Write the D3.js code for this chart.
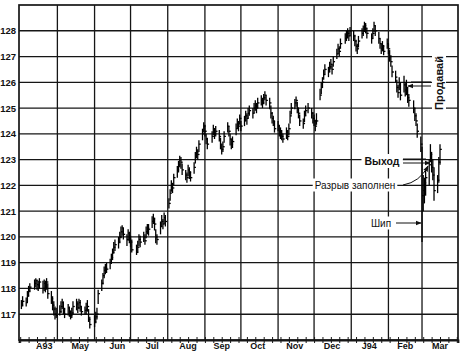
<!DOCTYPE html>
<html>
<head>
<meta charset="utf-8">
<script src="https://cdn.jsdelivr.net/npm/d3@7"></script>
<style>
  body { margin: 0; background: #fff; }
  svg { display: block; font-family: "Liberation Sans", Arial, sans-serif; }
</style>
</head>
<body>
<div id="chart"></div>
<script>
// daily bars: [high, low, close]
const apr93 = [
  [117.55,117.2,117.35],[117.7,117.3,117.5],[117.65,117.3,117.45],[117.9,117.45,117.7],
  [118.1,117.7,117.9],[118.2,117.85,118.05],[118.35,117.95,118.2],[118.4,118.05,118.3],
  [118.35,117.95,118.15],[118.3,117.9,118.1],[118.4,118.0,118.25],[118.3,117.8,118.0],
  [118.35,117.9,118.2],[118.3,117.85,118.05],[118.4,117.95,118.25],[118.2,117.6,117.8],
  [117.9,117.4,117.6],[117.7,117.15,117.35],[117.5,116.95,117.2],[117.3,116.8,117.0],
  [117.25,116.85,116.95]
];
const may93 = [
  [117.35,116.95,117.1],[117.5,117.05,117.3],[117.6,117.2,117.45],[117.5,117.0,117.2],
  [117.25,116.85,117.0],[117.4,116.95,117.25],[117.3,116.9,117.1],[117.15,116.8,116.95],
  [117.25,116.85,117.05],[117.5,117.0,117.3],[117.6,117.15,117.4],[117.5,117.05,117.25],
  [117.6,117.2,117.45],[117.55,117.1,117.3],[117.3,116.95,117.1],[117.3,117.0,117.15],
  [117.45,117.0,117.2],[117.55,117.1,117.3],[117.2,116.7,116.8],[116.9,116.45,116.6]
];
const jun93 = [
  [116.95,116.5,116.7],[117.1,116.65,116.9],[117.25,116.8,117.0],[117.95,117.4,117.8],
  [118.35,117.9,118.2],[118.6,118.15,118.5],[118.85,118.4,118.7],[118.95,118.55,118.8],
  [119.0,118.6,118.75],[119.15,118.75,119.0],[119.35,118.95,119.2],[119.55,119.1,119.4],
  [119.8,119.35,119.6],[119.9,119.45,119.7],[120.0,119.55,119.8],[120.2,119.75,120.0],
  [120.4,119.95,120.2],[120.45,120.05,120.35],[120.35,119.9,120.1],[120.1,119.65,119.9],
  [120.3,119.85,120.15],[120.2,119.75,119.95]
];
const jul93 = [
  [120.05,119.6,119.8],[119.9,119.4,119.5],[119.7,119.3,119.4],[119.85,119.4,119.6],
  [120.1,119.65,119.9],[120.05,119.6,119.8],[120.2,119.8,120.0],[120.1,119.7,119.85],
  [120.4,119.95,120.2],[120.5,120.1,120.35],[120.5,120.05,120.3],[120.8,120.35,120.6],
  [120.9,120.5,120.7],[120.75,120.25,120.5],[120.3,119.75,120.0],[120.1,119.7,119.9],
  [120.6,120.1,120.4],[120.85,120.4,120.6],[120.7,120.3,120.5],[120.95,120.5,120.75],
  [120.85,120.4,120.6]
];
const aug93 = [
  [121.5,121.1,121.3],[121.85,121.4,121.7],[122.2,121.75,122.0],[122.1,121.7,121.9],
  [122.45,122.0,122.3],[122.75,122.3,122.6],[122.95,122.5,122.8],[123.15,122.7,123.0],
  [123.1,122.65,122.9],[122.85,122.4,122.6],[122.6,122.2,122.4],[122.5,122.1,122.3],
  [122.8,122.35,122.6],[122.7,122.25,122.5],[122.55,122.15,122.3],[122.9,122.45,122.7],
  [123.3,122.85,123.1],[123.5,123.05,123.3],[123.4,123.0,123.2],[123.75,123.3,123.6],
  [124.2,123.75,124.0],[124.45,124.05,124.3]
];
const sep93 = [
  [124.35,123.9,124.1],[124.0,123.6,123.8],[123.85,123.4,123.6],[124.1,123.65,123.9],
  [124.35,123.95,124.2],[124.2,123.8,124.0],[124.3,123.9,124.1],[124.15,123.7,123.9],
  [123.85,123.4,123.6],[123.6,123.2,123.4],[123.7,123.3,123.5],[124.1,123.65,123.9],
  [124.45,124.05,124.3],[124.3,123.9,124.1],[124.0,123.55,123.8],[123.8,123.4,123.6],
  [123.9,123.45,123.7],[124.4,123.95,124.2],[124.6,124.2,124.4],[124.5,124.1,124.3],
  [124.75,124.35,124.6]
];
const oct93 = [
  [124.5,124.1,124.3],[124.7,124.3,124.5],[124.9,124.5,124.7],[124.8,124.35,124.6],
  [125.0,124.6,124.8],[125.1,124.7,124.9],[125.0,124.6,124.8],[125.2,124.8,125.0],
  [125.3,124.9,125.1],[125.2,124.8,125.0],[125.4,125.0,125.2],[125.5,125.1,125.3],
  [125.4,125.0,125.2],[125.55,125.15,125.4],[125.65,125.3,125.5],[125.5,125.1,125.3],
  [125.4,124.95,125.2],[125.1,124.6,124.8],[124.85,124.4,124.6],[124.7,124.3,124.5],
  [124.5,124.05,124.2]
];
const nov93 = [
  [124.5,124.1,124.3],[124.35,123.9,124.1],[124.25,123.8,124.0],[124.15,123.75,123.9],
  [124.0,123.65,123.8],[124.25,123.8,124.0],[124.15,123.75,123.9],[124.4,123.95,124.2],
  [124.9,124.4,124.7],[125.2,124.75,125.0],[125.35,124.95,125.2],[125.45,125.05,125.3],
  [125.25,124.8,125.0],[125.0,124.6,124.8],[124.75,124.3,124.5],[124.6,124.2,124.4],
  [124.9,124.45,124.7],[125.1,124.7,124.9],[125.2,124.8,125.0],[125.0,124.6,124.8],
  [124.85,124.4,124.6]
];
const dec93 = [
  [124.75,124.3,124.5],[124.55,124.1,124.3],[124.8,124.35,124.5],[125.75,125.3,125.5],
  [126.0,125.55,125.8],[126.2,125.8,126.0],[126.5,126.1,126.3],[126.7,126.3,126.5],
  [126.6,126.2,126.4],[126.8,126.4,126.6],[126.9,126.5,126.7],[126.7,126.3,126.5],
  [127.0,126.6,126.8],[127.3,126.9,127.1],[127.5,127.1,127.3],[127.4,127.0,127.2],
  [127.7,127.3,127.5],[127.9,127.5,127.7],[128.0,127.6,127.8],[128.1,127.7,127.9],
  [128.0,127.6,127.8],[128.15,127.8,128.0]
];
const jan94 = [
  [128.0,127.6,127.8],[127.85,127.4,127.6],[127.65,127.2,127.4],[127.5,127.1,127.3],
  [127.8,127.35,127.6],[128.1,127.7,127.9],[128.2,127.8,128.0],[128.35,127.95,128.2],
  [128.3,127.9,128.1],[128.1,127.7,127.9],[127.9,127.5,127.7],[128.1,127.7,127.9],
  [128.35,127.95,128.2],[128.2,127.8,128.0],[127.95,127.5,127.7],[127.7,127.3,127.5],
  [127.5,127.1,127.3],[127.6,127.2,127.4],[127.45,127.05,127.2],[127.7,127.3,127.5]
];
const feb94 = [
  [127.5,127.1,127.3],[127.25,126.8,127.0],[127.05,126.6,126.8],[126.65,126.2,126.4],
  [126.45,126.0,126.2],[126.1,125.6,125.8],[125.9,125.4,125.6],[126.2,125.7,125.9],
  [126.0,125.3,125.5],[126.25,125.6,125.9],[126.0,125.45,125.7],[126.1,125.5,125.8],
  [125.8,125.2,125.4],[125.55,125.05,125.3],[125.3,124.8,125.0],[125.0,124.5,124.7],
  [124.8,124.3,124.5],[124.4,123.85,124.1],[123.9,123.3,123.6]
];
const mar94 = [
  [123.5,119.8,121.6],[122.4,121.0,121.8],[122.3,121.3,122.1],[122.6,121.6,122.3],
  [123.0,122.0,122.8],[123.6,122.9,123.2],[123.3,122.5,122.7],[123.0,122.2,122.4],
  [122.7,121.4,121.8],[122.4,121.7,122.2],[123.1,122.1,122.9],[123.6,122.8,123.4]
];

const monthKeys = ["1993-04","1993-05","1993-06","1993-07","1993-08","1993-09",
                   "1993-10","1993-11","1993-12","1994-01","1994-02","1994-03"];
const monthRows = [apr93, may93, jun93, jul93, aug93, sep93, oct93, nov93, dec93, jan94, feb94, mar94];
const holidays = ["1993-04-09","1993-05-31","1993-07-05","1993-09-06","1993-11-25",
                  "1993-12-24","1994-01-17","1994-02-21"];

const yTicks = [117,118,119,120,121,122,123,124,125,126,127,128];
const monthLabels = ["A93","May","Jun","Jul","Aug","Sep","Oct","Nov","Dec","J94","Feb","Mar"];
const labelDates = ["1993-04-20","1993-05-20","1993-06-20","1993-07-19","1993-08-18","1993-09-15",
                    "1993-10-15","1993-11-15","1993-12-16","1994-01-16","1994-02-15","1994-03-16"];

const width = 472, height = 354;
const parse = d3.timeParse("%Y-%m-%d");
const fmt = d3.timeFormat("%Y-%m-%d");

// put every row on its trading day
const bars = [];
monthKeys.forEach((k, mi) => {
  const m0 = parse(k + "-01");
  const days = d3.timeDay.range(m0, d3.timeMonth.offset(m0, 1))
    .filter(d => d.getDay() > 0 && d.getDay() < 6 && !holidays.includes(fmt(d)));
  monthRows[mi].forEach((r, i) => {
    bars.push({ date: days[i], high: r[0], low: r[1], close: r[2] });
  });
});

const x = d3.scaleTime()
  .domain([parse("1993-03-30"), parse("1994-03-31")])
  .range([19, 458]);
const y = d3.scaleLinear().domain([116, 129]).range([340, 5]);

const svg = d3.select("#chart").append("svg")
  .attr("width", width)
  .attr("height", height);

svg.append("rect").attr("width", width).attr("height", height).attr("fill", "#fff");

const defs = svg.append("defs");
defs.append("marker")
  .attr("id", "ah")
  .attr("viewBox", "0 0 10 10")
  .attr("refX", 9).attr("refY", 5)
  .attr("markerWidth", 6).attr("markerHeight", 6)
  .attr("orient", "auto-start-reverse")
  .append("path")
  .attr("d", "M0,1L10,5L0,9z")
  .attr("fill", "#111");

const ink = "#161616";

// grid
const grid = svg.append("g");
grid.selectAll(".hg").data(yTicks).enter().append("line")
  .attr("x1", x.range()[0]).attr("x2", x.range()[1])
  .attr("y1", d => y(d)).attr("y2", d => y(d))
  .attr("stroke", ink).attr("stroke-width", 1.3);

const monthStarts = d3.timeMonth.range(parse("1993-05-01"), parse("1994-03-02"));
grid.selectAll(".vg").data(monthStarts).enter().append("line")
  .attr("x1", d => x(d)).attr("x2", d => x(d))
  .attr("y1", y.range()[1]).attr("y2", y.range()[0])
  .attr("stroke", ink).attr("stroke-width", 1.3);

// frame
svg.append("rect")
  .attr("x", x.range()[0]).attr("y", y.range()[1])
  .attr("width", x.range()[1] - x.range()[0])
  .attr("height", y.range()[0] - y.range()[1])
  .attr("fill", "none").attr("stroke", ink).attr("stroke-width", 1.7);

// annotation texts with white backing
const notes = svg.append("g");
function note(txt, tx, ty, opts) {
  const g = notes.append("g");
  const t = g.append("text")
    .attr("x", tx).attr("y", ty)
    .attr("font-size", opts.size)
    .attr("font-weight", opts.bold ? "bold" : "normal")
    .attr("fill", "#111")
    .attr("text-anchor", "middle")
    .attr("dominant-baseline", "central")
    .text(txt);
  if (opts.rotate) t.attr("transform", `rotate(-90 ${tx} ${ty})`);
  const b = t.node().getBBox();
  const pad = opts.pad || 2;
  let rx = b.x - pad, ry = b.y - 1, rw = b.width + pad * 2, rh = b.height + 2;
  if (opts.rotate) {
    rx = tx - b.height / 2 - 1; ry = ty - b.width / 2 - pad;
    rw = b.height + 2; rh = b.width + pad * 2;
  }
  g.insert("rect", "text")
    .attr("x", rx).attr("y", ry).attr("width", rw).attr("height", rh)
    .attr("fill", "#fff");
}
note("Продавай", 439, 83, { size: 11, bold: true, rotate: true, pad: 3 });
note("Выход", 382, 161, { size: 10.5, bold: true, pad: 3 });
note("Разрыв заполнен", 355, 185, { size: 10, pad: 2 });
note("Шип", 381, 223, { size: 10, pad: 2 });

// bars
const barG = svg.append("g").attr("stroke", "#000").attr("stroke-width", 1.3);
barG.selectAll(".hl").data(bars).enter().append("line")
  .attr("x1", d => x(d.date)).attr("x2", d => x(d.date))
  .attr("y1", d => y(d.high)).attr("y2", d => y(d.low));
barG.selectAll(".cl").data(bars).enter().append("line")
  .attr("x1", d => x(d.date)).attr("x2", d => x(d.date) + 1.8)
  .attr("y1", d => y(d.close)).attr("y2", d => y(d.close));

// arrows
const arr = svg.append("g").attr("stroke", "#111").attr("stroke-width", 1).attr("fill", "none");
arr.append("line").attr("x1", 431).attr("y1", 82).attr("x2", 411).attr("y2", 82);
arr.append("line").attr("x1", 431).attr("y1", 86).attr("x2", 408).attr("y2", 86).attr("marker-end", "url(#ah)");
arr.append("line").attr("x1", 403).attr("y1", 159).attr("x2", 426).attr("y2", 159);
arr.append("line").attr("x1", 403).attr("y1", 163).attr("x2", 430).attr("y2", 163).attr("marker-end", "url(#ah)");
arr.append("path").attr("d", "M403,185 Q420,182 428,166").attr("marker-end", "url(#ah)");
arr.append("line").attr("x1", 396).attr("y1", 223).attr("x2", 421).attr("y2", 223).attr("marker-end", "url(#ah)");

// y labels
svg.append("g").selectAll("text").data(yTicks).enter().append("text")
  .attr("x", 16).attr("y", d => y(d))
  .attr("text-anchor", "end").attr("dominant-baseline", "central")
  .attr("font-size", 9.5).attr("font-weight", "bold").attr("fill", "#111")
  .text(d => d);

// bottom axis: weekly ticks crossing the base line
const weeks = d3.timeWednesday.range(parse("1993-03-31"), parse("1994-03-31"));
const axis = svg.append("g")
  .attr("transform", `translate(0,${y.range()[0]})`)
  .call(d3.axisBottom(x).tickValues(weeks).tickSize(3).tickFormat(""));
axis.select(".domain").attr("stroke", ink).attr("stroke-width", 1.8);
axis.selectAll(".tick line").attr("y1", -3).attr("y2", 3).attr("stroke", ink).attr("stroke-width", 1);

svg.append("g").selectAll("text").data(labelDates).enter().append("text")
  .attr("x", d => x(parse(d))).attr("y", 349)
  .attr("text-anchor", "middle")
  .attr("font-size", 9).attr("font-weight", 600).attr("fill", "#111")
  .text((d, i) => monthLabels[i]);
</script>
</body>
</html>
